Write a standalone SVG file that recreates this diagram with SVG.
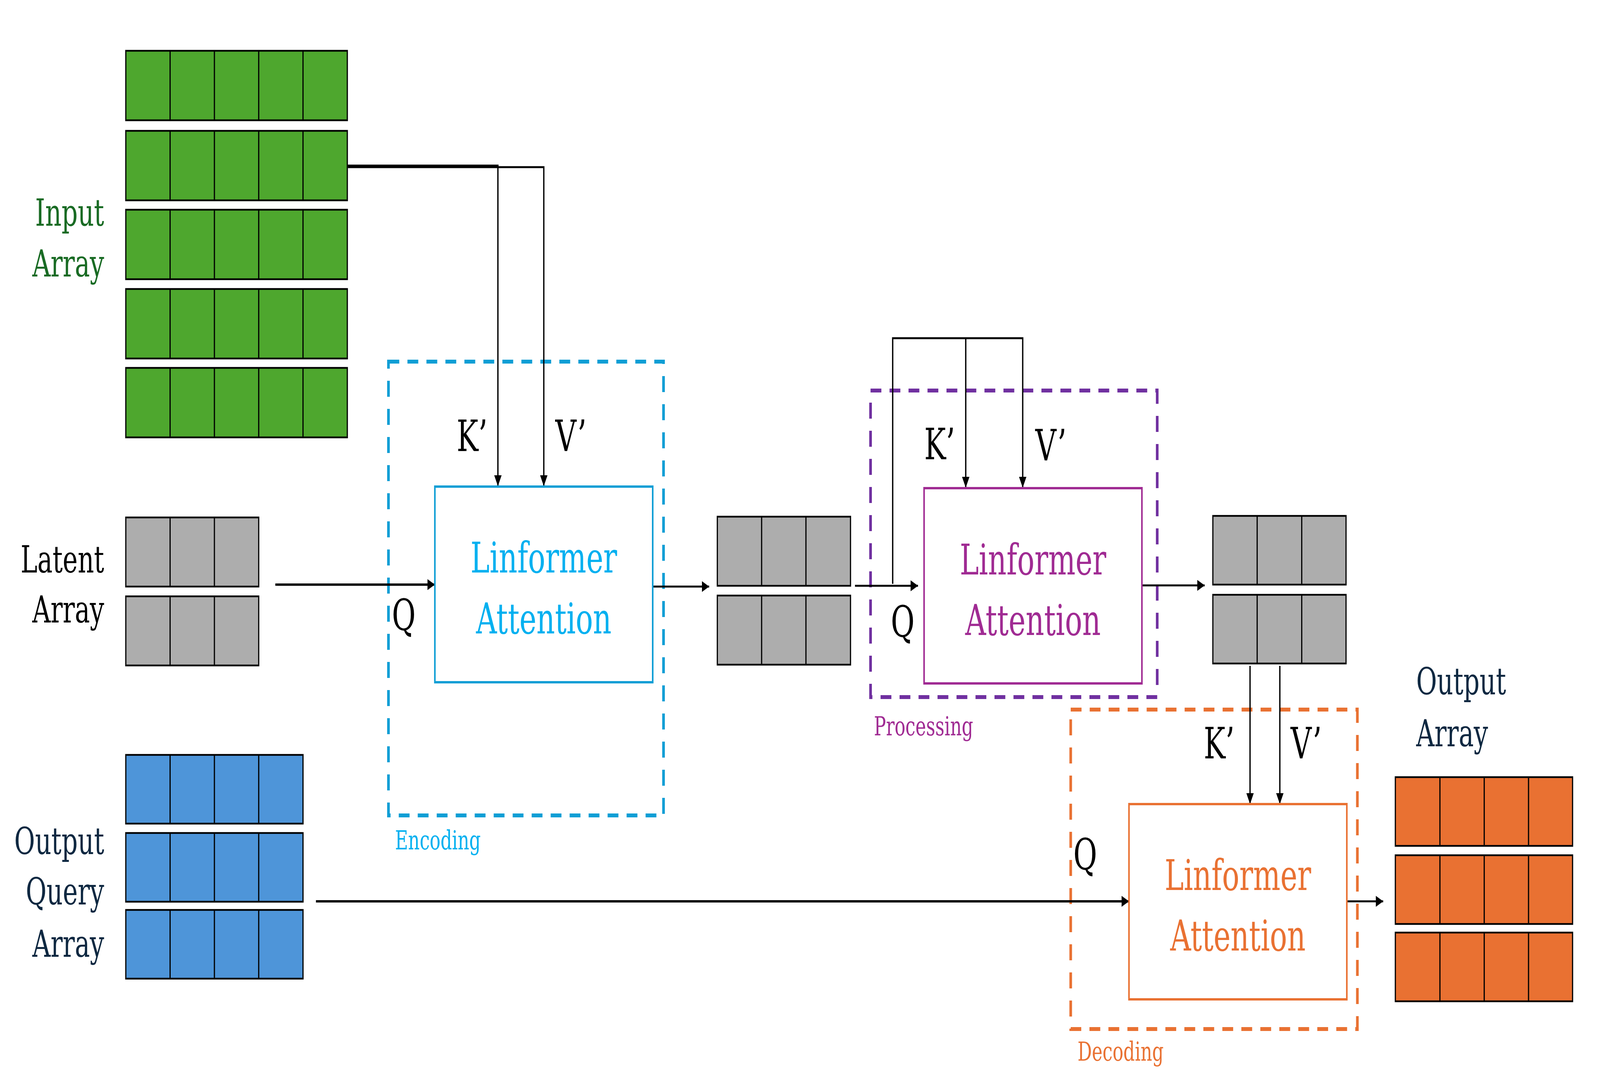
<svg xmlns="http://www.w3.org/2000/svg" width="6067" height="2786" viewBox="0 0 6067 2786" preserveAspectRatio="none" style="width:100vw;height:100vh;display:block">
<style>
text{font-family:"DejaVu Serif","Liberation Serif",serif}
.cell{stroke:#000;stroke-width:4.5}
.div{stroke:#000;stroke-width:4.5;fill:none}
.gr{fill:#4EA72E}.gy{fill:#ADADAD}.bl{fill:#4E95D9}.or{fill:#E97132}
.lbl{font-size:96px;text-anchor:end}
.kv{font-size:110px;fill:#000;text-anchor:middle}
.att{font-size:109px;text-anchor:middle}
.tag{font-size:68px}
.dash{fill:none;stroke-width:10;stroke-dasharray:41 31}
.box{fill:#fff;stroke-width:6}
.con{fill:none;stroke:#000;stroke-width:5}
</style>
<defs>
<marker id="ah" markerUnits="userSpaceOnUse" markerWidth="30" markerHeight="28" refX="28" refY="14" orient="auto">
<path d="M0,0 L28,14 L0,28 z" fill="#000"/>
</marker>
</defs>
<rect width="6067" height="2786" fill="#fff"/>

<g id="input-array">
<rect class="cell gr" x="477" y="130" width="840" height="178"/><path class="div" d="M645,130v178M813,130v178M981,130v178M1149,130v178"/>
<rect class="cell gr" x="477" y="335" width="840" height="178"/><path class="div" d="M645,335v178M813,335v178M981,335v178M1149,335v178"/>
<rect class="cell gr" x="477" y="537" width="840" height="178"/><path class="div" d="M645,537v178M813,537v178M981,537v178M1149,537v178"/>
<rect class="cell gr" x="477" y="740" width="840" height="178"/><path class="div" d="M645,740v178M813,740v178M981,740v178M1149,740v178"/>
<rect class="cell gr" x="477" y="942" width="840" height="178"/><path class="div" d="M645,942v178M813,942v178M981,942v178M1149,942v178"/>
<text class="lbl" fill="#196B24"><tspan x="395" y="578">Input</tspan><tspan x="395" y="708">Array</tspan></text>
</g>

<g id="latent-array">
<rect class="cell gy" x="477" y="1325" width="504" height="177"/><path class="div" d="M645,1325v177M813,1325v177"/>
<rect class="cell gy" x="477" y="1527" width="504" height="177"/><path class="div" d="M645,1527v177M813,1527v177"/>
<text class="lbl" fill="#000"><tspan x="395" y="1466">Latent</tspan><tspan x="395" y="1594">Array</tspan></text>
</g>

<g id="output-query-array">
<rect class="cell bl" x="477" y="1933" width="672" height="176"/><path class="div" d="M645,1933v176M813,1933v176M981,1933v176"/>
<rect class="cell bl" x="477" y="2133" width="672" height="176"/><path class="div" d="M645,2133v176M813,2133v176M981,2133v176"/>
<rect class="cell bl" x="477" y="2330" width="672" height="176"/><path class="div" d="M645,2330v176M813,2330v176M981,2330v176"/>
<text class="lbl" fill="#0E2841"><tspan x="395" y="2187">Output</tspan><tspan x="395" y="2316">Query</tspan><tspan x="395" y="2450">Array</tspan></text>
</g>

<g id="encoding">
<rect class="dash" x="1473" y="926" width="1043" height="1162" stroke="#0F9ED5"/>
<text class="tag" x="1498" y="2175" fill="#00B0F0">Encoding</text>
</g>

<g id="processing">
<rect class="dash" x="3301" y="1000" width="1087" height="785" stroke="#7030A0"/>
<text class="tag" x="3314" y="1883" fill="#A02B93">Processing</text>
</g>

<g id="decoding">
<rect class="dash" x="4060" y="1817" width="1087" height="818" stroke="#E97132"/>
<text class="tag" x="4086" y="2716" fill="#E97132">Decoding</text>
</g>

<g id="connectors">
<path class="con" d="M1319,424 H1888 V1245" marker-end="url(#ah)"/>
<path class="con" d="M1319,428 H2062 V1245" marker-end="url(#ah)"/>
<path class="con" d="M1044,1497 H1649" marker-end="url(#ah)" style="stroke-width:6"/>
<path class="con" d="M2452,1502 H2689" marker-end="url(#ah)"/>
<path class="con" d="M3242,1500 H3481" marker-end="url(#ah)"/>
<path class="con" d="M3385,1495 V866 H3878 V1249" marker-end="url(#ah)"/>
<path class="con" d="M3662,866 V1249" marker-end="url(#ah)"/>
<path class="con" d="M4330,1499 H4568" marker-end="url(#ah)"/>
<path class="con" d="M4740,1705 V2059" marker-end="url(#ah)"/>
<path class="con" d="M4853,1705 V2059" marker-end="url(#ah)"/>
<path class="con" d="M1198,2308 H4281" marker-end="url(#ah)" style="stroke-width:6"/>
<path class="con" d="M5107,2308 H5245" marker-end="url(#ah)"/>
</g>

<g id="encoding-attention">
<rect class="box" x="1649" y="1246" width="826" height="501" stroke="#0F9ED5"/>
<text class="att" fill="#00B0F0"><tspan x="2062" y="1466">Linformer</tspan><tspan x="2062" y="1622">Attention</tspan></text>
<text class="kv" x="1790" y="1155">K’</text>
<text class="kv" x="2165" y="1155">V’</text>
<text class="kv" x="1531" y="1614">Q</text>
</g>

<g id="latent-mid">
<rect class="cell gy" x="2720" y="1323" width="505" height="177"/><path class="div" d="M2888,1323v177M3056,1323v177"/>
<rect class="cell gy" x="2720" y="1525" width="505" height="177"/><path class="div" d="M2888,1525v177M3056,1525v177"/>
</g>

<g id="processing-attention">
<rect class="box" x="3504" y="1250" width="826" height="500" stroke="#A02B93"/>
<text class="att" fill="#A02B93"><tspan x="3917" y="1471">Linformer</tspan><tspan x="3917" y="1626">Attention</tspan></text>
<text class="kv" x="3563" y="1176">K’</text>
<text class="kv" x="3985" y="1179">V’</text>
<text class="kv" x="3423" y="1631">Q</text>
</g>

<g id="latent-out">
<rect class="cell gy" x="4599" y="1321" width="505" height="176"/><path class="div" d="M4767,1321v176M4936,1321v176"/>
<rect class="cell gy" x="4599" y="1523" width="505" height="176"/><path class="div" d="M4767,1523v176M4936,1523v176"/>
</g>

<g id="decoding-attention">
<rect class="box" x="4281" y="2059" width="826" height="500" stroke="#E97132"/>
<text class="att" fill="#E97132"><tspan x="4694" y="2279">Linformer</tspan><tspan x="4694" y="2434">Attention</tspan></text>
<text class="kv" x="4623" y="1942">K’</text>
<text class="kv" x="4953" y="1942">V’</text>
<text class="kv" x="4115" y="2227">Q</text>
</g>

<g id="output-array">
<rect class="cell or" x="5291" y="1990" width="672" height="176"/><path class="div" d="M5460,1990v176M5628,1990v176M5796,1990v176"/>
<rect class="cell or" x="5291" y="2190" width="672" height="176"/><path class="div" d="M5460,2190v176M5628,2190v176M5796,2190v176"/>
<rect class="cell or" x="5291" y="2388" width="672" height="176"/><path class="div" d="M5460,2388v176M5628,2388v176M5796,2388v176"/>
<text style="font-size:96px" fill="#0E2841"><tspan x="5370" y="1778">Output</tspan><tspan x="5370" y="1911">Array</tspan></text>
</g>
</svg>
